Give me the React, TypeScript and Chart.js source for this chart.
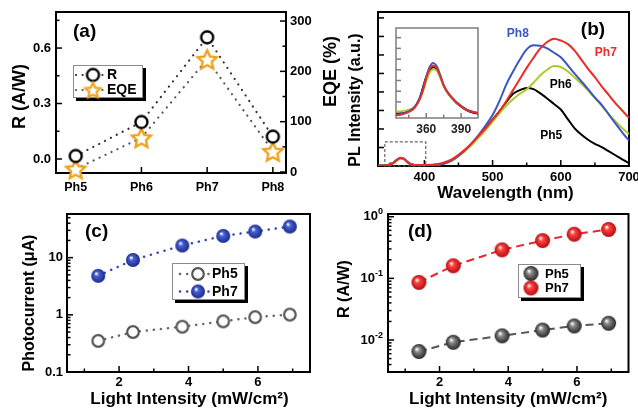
import React, { useEffect, useRef } from "react";
import { Chart, registerables } from "chart.js";
Chart.register(...registerables);

const FONT = '"Liberation Sans", Arial, Helvetica, sans-serif';
const bold = (px: number) => `bold ${px}px ${FONT}`;

// ---------------- (a) ----------------
const compounds = ["Ph5", "Ph6", "Ph7", "Ph8"];
const compoundPos = [1, 2, 3, 4];
const responsivity = [0.016, 0.2, 0.658, 0.121];
const eqe = [6, 68, 224, 41];
const rTicks = [0, 0.3, 0.6];
const rTickLabels = ["0.0", "0.3", "0.6"];
const rMinor = [0.15, 0.45, 0.75];
const eqeTicks = [0, 100, 200, 300];
const eqeTickLabels = ["0", "100", "200", "300"];
const eqeMinor = [50, 150, 250];

// ---------------- (b) ----------------
const wavelength = [332, 340, 350, 355, 360, 365, 370, 375, 380, 390, 400, 410, 420, 430, 440, 450, 460, 470, 480, 490, 500, 510, 520, 530, 540, 550, 560, 570, 580, 590, 600, 610, 620, 630, 640, 650, 660, 670, 680, 690, 700];
const plPh5 = [0.02, 0.03, 0.08, 0.18, 0.33, 0.42, 0.38, 0.22, 0.1, 0.04, 0.03, 0.04, 0.07, 0.14, 0.3, 0.55, 0.85, 1.2, 1.6, 2.05, 2.5, 2.95, 3.45, 3.9, 4.1, 4.22, 4.15, 3.92, 3.65, 3.35, 3.05, 2.55, 2.05, 1.7, 1.42, 1.2, 1.02, 0.8, 0.58, 0.36, 0.15];
const plPh6 = [0.02, 0.03, 0.07, 0.16, 0.3, 0.4, 0.36, 0.2, 0.09, 0.04, 0.03, 0.04, 0.07, 0.14, 0.28, 0.52, 0.82, 1.15, 1.55, 1.95, 2.4, 2.85, 3.25, 3.6, 3.9, 4.15, 4.5, 4.9, 5.2, 5.4, 5.35, 5.12, 4.8, 4.45, 4.08, 3.68, 3.25, 2.82, 2.42, 2.05, 1.73];
const plPh7 = [0.02, 0.03, 0.08, 0.18, 0.34, 0.43, 0.38, 0.22, 0.1, 0.05, 0.05, 0.07, 0.11, 0.2, 0.36, 0.6, 0.9, 1.25, 1.65, 2.05, 2.5, 2.95, 3.5, 4.1, 4.7, 5.3, 5.85, 6.35, 6.7, 6.88, 6.78, 6.6, 6.25, 5.75, 5.25, 4.8, 4.3, 3.85, 3.4, 3.0, 2.6];
const plPh8 = [0.02, 0.03, 0.08, 0.19, 0.35, 0.45, 0.4, 0.23, 0.1, 0.04, 0.03, 0.04, 0.07, 0.15, 0.3, 0.56, 0.88, 1.26, 1.7, 2.2, 2.75, 3.5, 4.4, 5.1, 5.75, 6.3, 6.52, 6.5, 6.35, 6.12, 5.87, 5.45, 5.0, 4.58, 4.15, 3.7, 3.3, 2.8, 2.3, 1.82, 1.37];
const wlTicks = [400, 500, 600, 700];
const wlMinor = [350, 450, 550, 650];
const plTicks = [0, 1, 2, 3, 4, 5, 6, 7, 8];
const plLabelNames = ["Ph5", "Ph6", "Ph7", "Ph8"];
const plLabelWl = [586, 600, 666, 537];
const plLabelY = [1.62, 4.38, 6.1, 7.14];
const zoomBoxWl = [342, 402];
const zoomBoxY = [0, 1.3];

// inset
const insetWavelength = [334, 338, 342, 346, 350, 354, 357, 360, 363, 366, 369, 372, 375, 378, 382, 386, 390, 395, 400, 405];
const insetPh5 = [0.35, 0.4, 0.5, 0.68, 1.0, 1.75, 2.8, 3.85, 4.45, 4.75, 4.55, 3.85, 3.0, 2.4, 1.85, 1.4, 1.05, 0.7, 0.5, 0.4];
const insetPh6 = [0.6, 0.62, 0.68, 0.8, 1.05, 1.6, 2.4, 3.4, 4.25, 4.55, 4.4, 3.75, 2.95, 2.4, 1.85, 1.45, 1.1, 0.75, 0.6, 0.5];
const insetPh7 = [0.25, 0.3, 0.42, 0.6, 0.95, 1.65, 2.5, 3.7, 4.6, 4.9, 4.65, 3.9, 3.05, 2.45, 1.9, 1.45, 1.1, 0.75, 0.55, 0.45];
const insetPh8 = [0.3, 0.38, 0.5, 0.7, 1.05, 1.8, 2.7, 3.9, 4.8, 5.15, 4.85, 4.05, 3.1, 2.5, 1.95, 1.5, 1.15, 0.8, 0.6, 0.45];
const insetTicks = [360, 390];
const insetMinor = [345, 375];
const insetYTicks = [0.5, 1.5, 2.5, 3.5, 4.5, 5.5, 6.5, 7.5];

// ---------------- (c) & (d) ----------------
const lightIntensity = [1.4, 2.4, 3.82, 5.0, 5.92, 6.92];
const currentPh5 = [0.35, 0.5, 0.62, 0.77, 0.91, 1.01];
const currentPh7 = [4.8, 9.1, 16.3, 24, 28.6, 35];
const currentTicks = [0.1, 1, 10];
const currentTickLabels = ["0.1", "1", "10"];
const currentMinor = [0.2, 0.3, 0.4, 0.5, 0.6, 0.7, 0.8, 0.9, 2, 3, 4, 5, 6, 7, 8, 9, 20, 30, 40, 50];
const intensityTicks = [2, 4, 6];
const intensityTickLabels = ["2", "4", "6"];
const intensityMinor = [1, 3, 5, 7];
const respPh5 = [0.0065, 0.0092, 0.0117, 0.0145, 0.0169, 0.0187];
const respPh7 = [0.086, 0.16, 0.29, 0.41, 0.52, 0.62];
const respTicks = [0.01, 0.1, 1];
const respTickBase = ["10", "10", "10"];
const respTickExp = ["-2", "-1", "0"];
const respMinor = [0.004, 0.005, 0.006, 0.007, 0.008, 0.009, 0.02, 0.03, 0.04, 0.05, 0.06, 0.07, 0.08, 0.09, 0.2, 0.3, 0.4, 0.5, 0.6, 0.7, 0.8, 0.9];

// ---------------- colours ----------------
const C_BLACK = "#000000";
const C_GREEN = "#a9cc2d";
const C_RED = "#ee2a24";
const C_BLUE = "#3b55c4";
const C_STAR = "#eea31c";

// ---------------- marker images ----------------
function mkCanvas(s: number) {
  const c = document.createElement("canvas");
  c.width = s;
  c.height = s;
  return c;
}
function ringImg(r: number, color: string, lw: number) {
  const s = Math.ceil(2 * r + lw + 2);
  const c = mkCanvas(s);
  const ctx = c.getContext("2d")!;
  ctx.beginPath();
  ctx.arc(s / 2, s / 2, r, 0, Math.PI * 2);
  ctx.fillStyle = "#fff";
  ctx.fill();
  ctx.lineWidth = lw;
  ctx.strokeStyle = color;
  ctx.stroke();
  return c;
}
function starImg(R: number, color: string, lw: number) {
  const s = Math.ceil(2 * R + lw + 2);
  const c = mkCanvas(s);
  const ctx = c.getContext("2d")!;
  const cx = s / 2, cy = s / 2 + R * 0.1;
  ctx.beginPath();
  for (let i = 0; i < 10; i++) {
    const rad = i % 2 === 0 ? R : R * 0.48;
    const a = -Math.PI / 2 + (i * Math.PI) / 5;
    ctx.lineTo(cx + rad * Math.cos(a), cy + rad * Math.sin(a));
  }
  ctx.closePath();
  ctx.fillStyle = "#fff";
  ctx.fill();
  ctx.lineJoin = "miter";
  ctx.lineWidth = lw;
  ctx.strokeStyle = color;
  ctx.stroke();
  return c;
}
function ballImg(r: number, dark: string, mid: string) {
  const s = Math.ceil(2 * r + 2);
  const c = mkCanvas(s);
  const ctx = c.getContext("2d")!;
  const cx = s / 2, cy = s / 2;
  const g = ctx.createRadialGradient(cx - r * 0.3, cy - r * 0.35, r * 0.05, cx, cy, r);
  g.addColorStop(0, "#ffffff");
  g.addColorStop(0.3, mid);
  g.addColorStop(1, dark);
  ctx.beginPath();
  ctx.arc(cx, cy, r, 0, Math.PI * 2);
  ctx.fillStyle = g;
  ctx.fill();
  return c;
}

// ---------------- decoration plugin ----------------
function drawSupLabel(ctx: any, base: string, sup: string, xRight: number, y: number, font: string, supFont: string) {
  ctx.font = supFont;
  const w2 = ctx.measureText(sup).width;
  ctx.font = font;
  const w1 = ctx.measureText(base).width;
  ctx.textAlign = "left";
  ctx.textBaseline = "middle";
  ctx.fillText(base, xRight - w1 - w2, y);
  ctx.font = supFont;
  ctx.fillText(sup, xRight - w2, y - 5);
}

function makeDeco(d: any) {
  return {
    id: "deco",
    beforeDraw(chart: any) {
      if (!d.background) return;
      const { ctx, chartArea: ca } = chart;
      ctx.save();
      ctx.fillStyle = "#fff";
      ctx.fillRect(ca.left, ca.top, ca.right - ca.left, ca.bottom - ca.top);
      ctx.restore();
    },
    beforeDatasetsDraw(chart: any) {
      const { ctx, chartArea: ca } = chart;
      ctx.save();
      ctx.strokeStyle = d.frame || "#000";
      ctx.lineWidth = d.frameWidth || 2;
      ctx.strokeRect(ca.left, ca.top, ca.right - ca.left, ca.bottom - ca.top);
      for (const a of d.axes) {
        const sc = chart.scales[a.id];
        ctx.strokeStyle = a.tickColor || d.frame || "#000";
        ctx.lineWidth = 1.5;
        const tick = (v: number, len: number) => {
          const p = sc.getPixelForValue(v);
          ctx.beginPath();
          if (a.side === "left") { ctx.moveTo(ca.left, p); ctx.lineTo(ca.left + len, p); }
          else if (a.side === "right") { ctx.moveTo(ca.right, p); ctx.lineTo(ca.right - len, p); }
          else { ctx.moveTo(p, ca.bottom); ctx.lineTo(p, ca.bottom - len); }
          ctx.stroke();
        };
        (a.major || []).forEach((v: number) => tick(v, a.majorLen || 6));
        (a.minor || []).forEach((v: number) => tick(v, a.minorLen || 3.5));
      }
      ctx.restore();
    },
    afterDatasetsDraw(chart: any) {
      const { ctx, chartArea: ca, scales } = chart;
      ctx.save();
      for (const a of d.axes) {
        if (!a.labels) continue;
        const sc = scales[a.id];
        ctx.fillStyle = a.labelColor || "#000";
        a.major.forEach((v: number, i: number) => {
          const lab = a.labels[i];
          if (lab == null) return;
          const p = sc.getPixelForValue(v);
          ctx.font = a.font;
          if (a.side === "left") {
            if (a.sup) drawSupLabel(ctx, lab, a.sup[i], ca.left - a.pad, p, a.font, a.supFont);
            else { ctx.textAlign = "right"; ctx.textBaseline = "middle"; ctx.fillText(lab, ca.left - a.pad, p); }
          } else if (a.side === "right") {
            ctx.textAlign = "left"; ctx.textBaseline = "middle"; ctx.fillText(lab, ca.right + a.pad, p);
          } else {
            ctx.textAlign = "center"; ctx.textBaseline = "middle"; ctx.fillText(lab, p, ca.bottom + a.pad);
          }
        });
      }
      if (d.extra) d.extra(chart);
      for (const t of d.texts || []) {
        const [x, y] = t.at(ca, scales);
        ctx.save();
        ctx.translate(x, y);
        if (t.rot) ctx.rotate(t.rot);
        ctx.font = t.font;
        ctx.fillStyle = t.color || "#000";
        ctx.textAlign = t.align || "center";
        ctx.textBaseline = "middle";
        ctx.fillText(t.text, 0, 0);
        ctx.restore();
      }
      const L = d.legend;
      if (L) {
        const x0 = Math.round(ca.left + L.x), y0 = Math.round(ca.top + L.y);
        ctx.fillStyle = "#000";
        ctx.fillRect(x0 + 3, y0 + 3, L.w, L.h);
        ctx.fillStyle = "#fff";
        ctx.fillRect(x0, y0, L.w, L.h);
        ctx.strokeStyle = "#8c8c8c";
        ctx.lineWidth = 1;
        ctx.strokeRect(x0 + 0.5, y0 + 0.5, L.w - 1, L.h - 1);
        L.rows.forEach((r: any, i: number) => {
          const yy = y0 + L.rowY[i];
          if (r.line && L.lineX) {
            ctx.save();
            ctx.beginPath();
            ctx.setLineDash(r.line.dash);
            ctx.lineCap = "round";
            ctx.lineWidth = r.line.width;
            ctx.strokeStyle = r.line.color;
            ctx.moveTo(x0 + L.lineX[0], yy);
            ctx.lineTo(x0 + L.lineX[1], yy);
            ctx.stroke();
            ctx.restore();
          }
          ctx.drawImage(r.img, x0 + L.markerX - r.img.width / 2, yy - r.img.height / 2);
          ctx.font = L.font;
          ctx.fillStyle = "#000";
          ctx.textAlign = "left";
          ctx.textBaseline = "middle";
          ctx.fillText(r.label, x0 + L.textX, yy + 0.5);
        });
      }
      ctx.restore();
    },
  };
}

function baseOptions(pad: any, scales: any) {
  return {
    responsive: false,
    maintainAspectRatio: false,
    animation: false,
    devicePixelRatio: 1,
    events: [],
    layout: { padding: pad },
    plugins: { legend: { display: false }, tooltip: { enabled: false }, title: { display: false } },
    scales,
  };
}
const pts = (xs: number[], ys: number[]) => xs.map((x, i) => ({ x, y: ys[i] }));
const ROT = -Math.PI / 2;

// ---------------- panel builders ----------------
function buildA(canvas: HTMLCanvasElement) {
  const ring = ringImg(6, "#000", 2.4);
  const star = starImg(10, C_STAR, 2.4);
  const starSmall = starImg(8, C_STAR, 2.2);
  const dotted = { borderWidth: 2.2, borderDash: [0.1, 6.5], borderCapStyle: "round", tension: 0, fill: false, clip: false };
  return new Chart(canvas, {
    type: "line",
    data: {
      datasets: [
        { label: "R", data: pts(compoundPos, responsivity), yAxisID: "y", borderColor: "#333", pointStyle: ring, pointRadius: 6, ...dotted },
        { label: "EQE", data: pts(compoundPos, eqe), yAxisID: "y2", borderColor: "#555", pointStyle: star, pointRadius: 8, ...dotted },
      ],
    } as any,
    options: baseOptions({ left: 56, top: 12, right: 352, bottom: 235 }, {
      x: { type: "linear", display: false, min: 0.7, max: 4.2 },
      y: { type: "linear", display: false, min: -0.0757, max: 0.795 },
      y2: { type: "linear", display: false, position: "right", min: -2, max: 318 },
    }) as any,
    plugins: [makeDeco({
      axes: [
        { id: "y", side: "left", major: rTicks, minor: rMinor, labels: rTickLabels, font: bold(13), pad: 5 },
        { id: "y2", side: "right", major: eqeTicks, minor: eqeMinor, labels: eqeTickLabels, font: bold(13), pad: 4 },
        { id: "x", side: "bottom", major: compoundPos, labels: compounds, font: bold(12.5), pad: 14.5 },
      ],
      texts: [
        { text: "(a)", font: bold(19), align: "left", at: (ca: any) => [ca.left + 17, ca.top + 20] },
        { text: "R (A/W)", font: bold(18), rot: ROT, at: (ca: any) => [ca.left - 36, (ca.top + ca.bottom) / 2 + 4] },
        { text: "EQE (%)", font: bold(18), rot: ROT, at: (ca: any) => [ca.right + 45, (ca.top + ca.bottom) / 2 - 21] },
      ],
      legend: {
        x: 17, y: 53, w: 70, h: 33, rowY: [10, 25], markerX: 20, lineX: [3, 33], textX: 34, font: bold(14),
        rows: [
          { label: "R", img: ring, line: { color: "#333", dash: [0.1, 6.5], width: 2.2 } },
          { label: "EQE", img: starSmall, line: { color: "#555", dash: [0.1, 6.5], width: 2.2 } },
        ],
      },
    })],
  });
}

function buildB(canvas: HTMLCanvasElement) {
  const line = (label: string, ys: number[], color: string) => ({
    label, data: pts(wavelength, ys), borderColor: color, borderWidth: 2, pointRadius: 0, cubicInterpolationMode: "monotone", fill: false,
  });
  return new Chart(canvas, {
    type: "line",
    data: {
      datasets: [
        line("Ph7", plPh7, C_RED),
        line("Ph8", plPh8, C_BLUE),
        line("Ph6", plPh6, C_GREEN),
        line("Ph5", plPh5, C_BLACK),
      ],
    } as any,
    options: baseOptions({ left: 378, top: 12, right: 9, bottom: 242 }, {
      x: { type: "linear", display: false, min: 332, max: 700 },
      y: { type: "linear", display: false, min: 0, max: 8.32 },
    }) as any,
    plugins: [makeDeco({
      axes: [
        { id: "y", side: "left", major: plTicks, majorLen: 6 },
        { id: "x", side: "bottom", major: wlTicks, minor: wlMinor, labels: wlTicks.map(String), font: bold(13), pad: 11.5 },
      ],
      extra: (chart: any) => {
        const { ctx, scales } = chart;
        const x1 = scales.x.getPixelForValue(zoomBoxWl[0]);
        const x2 = scales.x.getPixelForValue(zoomBoxWl[1]);
        const y1 = scales.y.getPixelForValue(zoomBoxY[1]);
        const y2 = scales.y.getPixelForValue(zoomBoxY[0]);
        ctx.save();
        ctx.setLineDash([3, 2]);
        ctx.strokeStyle = "#666";
        ctx.lineWidth = 1.2;
        ctx.strokeRect(x1, y1, x2 - x1, y2 - y1);
        ctx.restore();
      },
      texts: [
        { text: "(b)", font: bold(19), at: (ca: any) => [ca.right - 36, ca.top + 18] },
        { text: "PL Intensity (a.u.)", font: bold(16), rot: ROT, at: (ca: any) => [ca.left - 22, (ca.top + ca.bottom) / 2 + 11] },
        { text: "Wavelength (nm)", font: bold(17), at: (ca: any) => [(ca.left + ca.right) / 2 + 2, ca.bottom + 27] },
        ...plLabelNames.map((name, i) => ({
          text: name, font: bold(12), color: name === "Ph8" ? C_BLUE : name === "Ph7" ? C_RED : "#000",
          at: (_ca: any, s: any) => [s.x.getPixelForValue(plLabelWl[i]), s.y.getPixelForValue(plLabelY[i])],
        })),
      ],
    })],
  });
}

function buildInset(canvas: HTMLCanvasElement) {
  const line = (label: string, ys: number[], color: string) => ({
    label, data: pts(insetWavelength, ys), borderColor: color, borderWidth: 1.8, pointRadius: 0, cubicInterpolationMode: "monotone", fill: false,
  });
  return new Chart(canvas, {
    type: "line",
    data: {
      datasets: [
        line("Ph7", insetPh7, C_RED),
        line("Ph8", insetPh8, C_BLUE),
        line("Ph6", insetPh6, C_GREEN),
        line("Ph5", insetPh5, C_BLACK),
      ],
    } as any,
    options: baseOptions({ left: 396, top: 28, right: 160, bottom: 290 }, {
      x: { type: "linear", display: false, min: 334, max: 404.5 },
      y: { type: "linear", display: false, min: 0, max: 8.4 },
    }) as any,
    plugins: [makeDeco({
      background: true,
      frame: "#7d7d7d",
      frameWidth: 1.5,
      axes: [
        { id: "y", side: "left", major: insetYTicks, majorLen: 5 },
        { id: "x", side: "bottom", major: insetTicks, minor: insetMinor, majorLen: 5, labels: insetTicks.map(String), font: bold(12), pad: 12, labelColor: "#222" },
      ],
      texts: [],
    })],
  });
}

function buildC(canvas: HTMLCanvasElement) {
  const ball = ballImg(7, "#1b2a86", "#4560d6");
  const ring = ringImg(5.8, "#555", 2.2);
  const dotted = { borderWidth: 2.5, borderCapStyle: "round", borderDash: [0.1, 7], tension: 0, fill: false, clip: false };
  return new Chart(canvas, {
    type: "line",
    data: {
      datasets: [
        { label: "Ph7", data: pts(lightIntensity, currentPh7), borderColor: "#2f46b8", pointStyle: ball, pointRadius: 7, ...dotted },
        { label: "Ph5", data: pts(lightIntensity, currentPh5), borderColor: "#666", pointStyle: ring, pointRadius: 6, ...dotted },
      ],
    } as any,
    options: baseOptions({ left: 67, top: 214, right: 328, bottom: 36 }, {
      x: { type: "linear", display: false, min: 0.5, max: 7.5 },
      y: { type: "logarithmic", display: false, min: 0.1, max: 58 },
    }) as any,
    plugins: [makeDeco({
      axes: [
        { id: "y", side: "left", major: currentTicks, minor: currentMinor, labels: currentTickLabels, font: bold(13), pad: 4 },
        { id: "x", side: "bottom", major: intensityTicks, minor: intensityMinor, labels: intensityTickLabels, font: bold(13), pad: 10.5 },
      ],
      texts: [
        { text: "(c)", font: bold(19), align: "left", at: (ca: any) => [ca.left + 18, ca.top + 18] },
        { text: "Photocurrent (\u03bcA)", font: bold(16), rot: ROT, at: (ca: any) => [ca.left - 37, (ca.top + ca.bottom) / 2 + 10] },
        { text: "Light Intensity (mW/cm\u00b2)", font: bold(17), at: (ca: any) => [(ca.left + ca.right) / 2 + 1, ca.bottom + 27] },
      ],
      legend: {
        x: 105, y: 49, w: 73, h: 37, rowY: [11, 28.5], markerX: 26, lineX: [8, 37], textX: 40, font: bold(14),
        rows: [
          { label: "Ph5", img: ring, line: { color: "#666", dash: [0.1, 7], width: 2.5 } },
          { label: "Ph7", img: ball, line: { color: "#2f46b8", dash: [0.1, 7], width: 2.5 } },
        ],
      },
    })],
  });
}

function buildD(canvas: HTMLCanvasElement) {
  const red = ballImg(7.5, "#b30c10", "#ff4242");
  const gray = ballImg(7.5, "#262626", "#8a8a8a");
  const dashed = { borderWidth: 2, borderDash: [8, 5], tension: 0, fill: false, clip: false };
  return new Chart(canvas, {
    type: "line",
    data: {
      datasets: [
        { label: "Ph7", data: pts(lightIntensity, respPh7), borderColor: "#e8262b", pointStyle: red, pointRadius: 7.5, ...dashed },
        { label: "Ph5", data: pts(lightIntensity, respPh5), borderColor: "#555", pointStyle: gray, pointRadius: 7.5, ...dashed },
      ],
    } as any,
    options: baseOptions({ left: 388, top: 214, right: 9, bottom: 36 }, {
      x: { type: "linear", display: false, min: 0.5, max: 7.5 },
      y: { type: "logarithmic", display: false, min: 0.00303, max: 1.106 },
    }) as any,
    plugins: [makeDeco({
      axes: [
        { id: "y", side: "left", major: respTicks, minor: respMinor, labels: respTickBase, sup: respTickExp, font: bold(13), supFont: bold(9), pad: 5 },
        { id: "x", side: "bottom", major: intensityTicks, minor: intensityMinor, labels: intensityTickLabels, font: bold(13), pad: 10.5 },
      ],
      texts: [
        { text: "(d)", font: bold(19), align: "left", at: (ca: any) => [ca.left + 20, ca.top + 18] },
        { text: "R (A/W)", font: bold(16), rot: ROT, at: (ca: any) => [ca.left - 43, (ca.top + ca.bottom) / 2 - 4] },
        { text: "Light Intensity (mW/cm\u00b2)", font: bold(17), at: (ca: any) => [(ca.left + ca.right) / 2, ca.bottom + 27] },
      ],
      legend: {
        x: 130, y: 50, w: 63, h: 34, rowY: [9.5, 24], markerX: 13, textX: 27, font: bold(13),
        rows: [
          { label: "Ph5", img: gray },
          { label: "Ph7", img: red },
        ],
      },
    })],
  });
}

function ChartCanvas({ build }: { build: (c: HTMLCanvasElement) => any }) {
  const ref = useRef<HTMLCanvasElement | null>(null);
  useEffect(() => {
    const ch = build(ref.current!);
    return () => ch.destroy();
  }, [build]);
  return (
    <canvas
      ref={ref}
      width={638}
      height={408}
      style={{ position: "absolute", left: 0, top: 0, width: 638, height: 408 }}
    />
  );
}

export default function App() {
  return (
    <div style={{ position: "fixed", left: 0, top: 0, width: 638, height: 408, background: "#fff", overflow: "hidden" }}>
      <ChartCanvas build={buildA} />
      <ChartCanvas build={buildB} />
      <ChartCanvas build={buildInset} />
      <ChartCanvas build={buildC} />
      <ChartCanvas build={buildD} />
    </div>
  );
}
